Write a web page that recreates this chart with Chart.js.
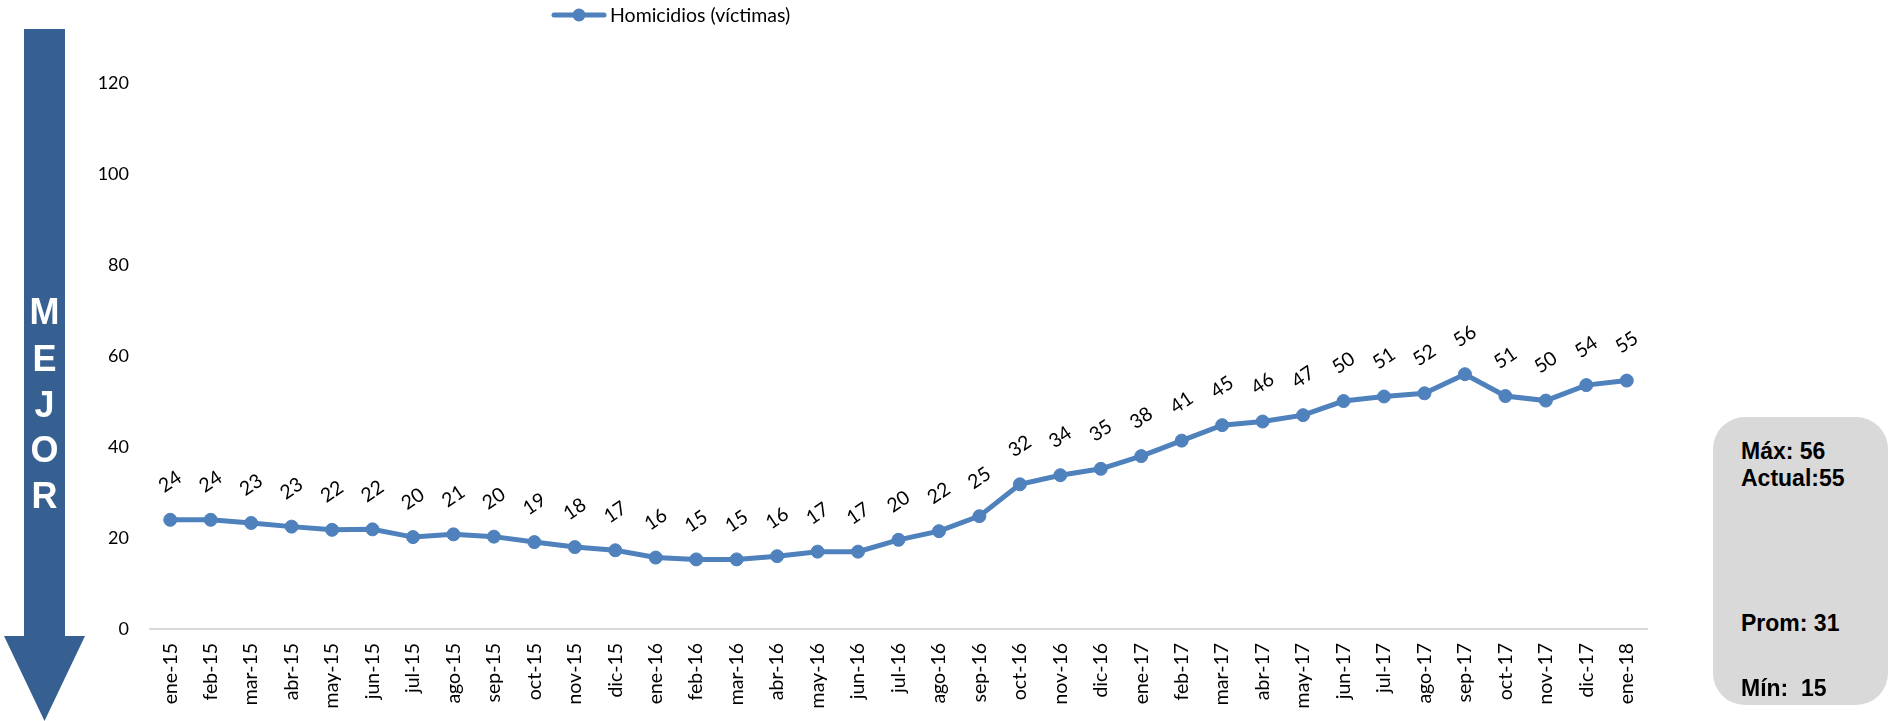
<!DOCTYPE html>
<html lang="es">
<head>
<meta charset="UTF-8">
<title>Homicidios (víctimas)</title>
<script src="https://cdn.jsdelivr.net/npm/chart.js"></script>
<style>
    body { margin: 0; background: #fff; }
    #lienzo { position: absolute; left: 0; top: 0; width: 1892px; height: 721px; }
    #flecha { position: absolute; left: 0; top: 0; }
    #resumen {
        position: absolute; left: 1713px; top: 417px; width: 175px; height: 288px;
        background: #d9d9d9; border-radius: 32px;
        font-family: "Liberation Sans", Arial, sans-serif; font-weight: bold; font-size: 23px; color: #000;
    }
    #resumen div { position: absolute; left: 28px; white-space: pre; line-height: 1; }
</style>
</head>
<body>
<div id="lienzo"><canvas id="grafica"></canvas></div>

<svg id="flecha" width="90" height="721">
    <polygon points="24,29 65,29 65,636 85,636 44.5,721 4,636 24,636" fill="#376092"/>
    <g fill="#fff" font-family="Liberation Sans, Arial, sans-serif" font-weight="bold" font-size="36" text-anchor="middle">
        <text x="44.5" y="324">M</text>
        <text x="44.5" y="371">E</text>
        <text x="44.5" y="417">J</text>
        <text x="44.5" y="462">O</text>
        <text x="44.5" y="508">R</text>
    </g>
</svg>

<div id="resumen">
    <div id="rMax" style="top:23px"></div>
    <div id="rAct" style="top:50px"></div>
    <div id="rProm" style="top:195px"></div>
    <div id="rMin" style="top:260px"></div>
</div>

<script>
const meses = [
    'ene-15', 'feb-15', 'mar-15', 'abr-15', 'may-15', 'jun-15', 'jul-15', 'ago-15', 'sep-15', 'oct-15', 'nov-15', 'dic-15',
    'ene-16', 'feb-16', 'mar-16', 'abr-16', 'may-16', 'jun-16', 'jul-16', 'ago-16', 'sep-16', 'oct-16', 'nov-16', 'dic-16',
    'ene-17', 'feb-17', 'mar-17', 'abr-17', 'may-17', 'jun-17', 'jul-17', 'ago-17', 'sep-17', 'oct-17', 'nov-17', 'dic-17',
    'ene-18'
];
const homicidios = [
    24.0, 24.0, 23.3, 22.5, 21.8, 21.9, 20.2, 20.8, 20.3, 19.1, 18.0, 17.3,
    15.7, 15.3, 15.3, 16.0, 17.0, 17.0, 19.6, 21.5, 24.8, 31.8, 33.8, 35.2,
    38.0, 41.4, 44.8, 45.6, 47.0, 50.1, 51.1, 51.8, 56.0, 51.2, 50.2, 53.6,
    54.6
];
const nombreSerie = 'Homicidios (víctimas)';
const yMin = 0;
const yMax = 120;
const yPaso = 20;

const azul = '#4f81bd';
const fuente = 'Lato';

// cuadro de resumen
const maximo = Math.max(...homicidios);
const minimo = Math.min(...homicidios);
const promedio = homicidios.reduce((a, b) => a + b, 0) / homicidios.length;
const actual = homicidios[homicidios.length - 1];
document.getElementById('rMax').textContent = 'Máx: ' + Math.round(maximo);
document.getElementById('rAct').textContent = 'Actual:' + Math.round(actual);
document.getElementById('rProm').textContent = 'Prom: ' + Math.round(promedio);
document.getElementById('rMin').textContent = 'Mín:  ' + Math.round(minimo);

// etiquetas de datos giradas sobre cada punto
const etiquetasDatos = {
    id: 'etiquetasDatos',
    afterDatasetsDraw(chart) {
        const ctx = chart.ctx;
        const meta = chart.getDatasetMeta(0);
        ctx.save();
        ctx.font = '19.5px ' + fuente;
        ctx.fillStyle = '#000';
        ctx.textAlign = 'center';
        ctx.textBaseline = 'middle';
        meta.data.forEach((p, i) => {
            ctx.save();
            ctx.translate(p.x, p.y - 38);
            ctx.rotate(-34 * Math.PI / 180);
            ctx.fillText(String(Math.round(homicidios[i])), 0, 0);
            ctx.restore();
        });
        ctx.restore();
    }
};

// leyenda estilo excel (linea con marcador)
const leyenda = {
    id: 'leyenda',
    afterDraw(chart) {
        const ctx = chart.ctx;
        const ds = chart.data.datasets[0];
        const y = 15;
        ctx.save();
        ctx.strokeStyle = ds.borderColor;
        ctx.lineWidth = 5;
        ctx.lineCap = 'round';
        ctx.beginPath();
        ctx.moveTo(554, y);
        ctx.lineTo(604, y);
        ctx.stroke();
        ctx.fillStyle = ds.borderColor;
        ctx.beginPath();
        ctx.arc(579, y, 6.5, 0, Math.PI * 2);
        ctx.fill();
        ctx.fillStyle = '#000';
        ctx.font = '19.5px ' + fuente;
        ctx.textBaseline = 'middle';
        ctx.fillText(ds.label, 610, y + 1);
        ctx.restore();
    }
};

new Chart(document.getElementById('grafica'), {
    type: 'line',
    data: {
        labels: meses,
        datasets: [{
            label: nombreSerie,
            data: homicidios,
            borderColor: azul,
            backgroundColor: azul,
            borderWidth: 5,
            pointRadius: 6.5,
            pointBackgroundColor: azul,
            pointBorderColor: azul,
            pointBorderWidth: 1,
            tension: 0,
            fill: false
        }]
    },
    options: {
        responsive: true,
        maintainAspectRatio: false,
        animation: false,
        layout: { padding: { left: 0, right: 245, top: 83, bottom: 0 } },
        plugins: {
            legend: { display: false },
            tooltip: { enabled: false }
        },
        scales: {
            x: {
                offset: true,
                grid: { display: false, drawTicks: false },
                border: { display: true, color: '#d9d9d9', width: 2 },
                ticks: {
                    color: '#000',
                    font: { family: fuente, size: 19.5 },
                    minRotation: 90,
                    maxRotation: 90,
                    autoSkip: false,
                    padding: 14
                },
                afterFit(s) { s.height = 92; }
            },
            y: {
                min: yMin,
                max: yMax,
                grid: { display: false, drawTicks: false },
                border: { display: false },
                ticks: {
                    stepSize: yPaso,
                    color: '#000',
                    font: { family: fuente, size: 18 },
                    padding: 21
                },
                afterFit(s) { s.width = 150; }
            }
        }
    },
    plugins: [etiquetasDatos, leyenda]
});
</script>
</body>
</html>
